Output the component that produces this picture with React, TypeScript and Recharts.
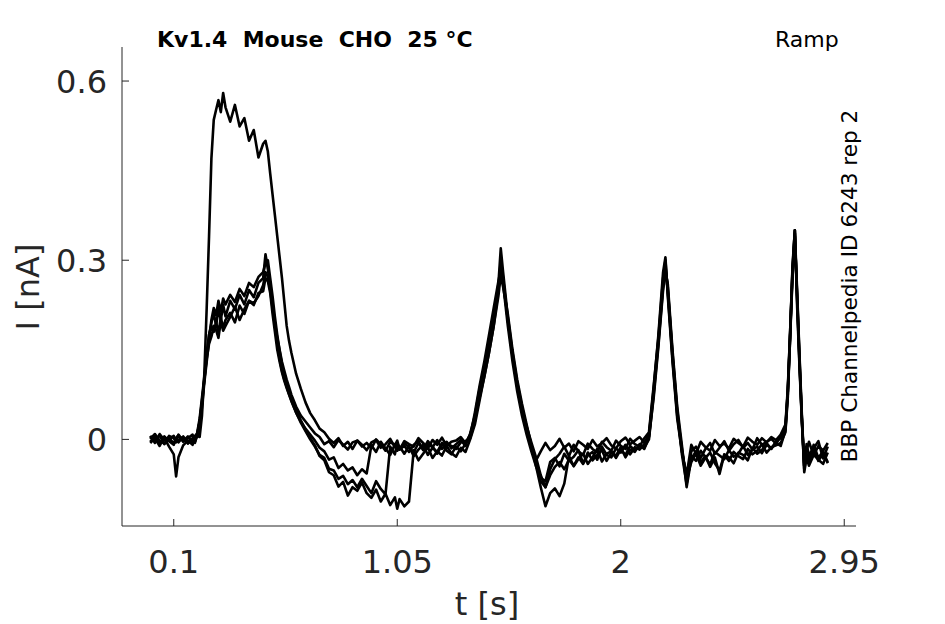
import React from 'react';
import { LineChart, Line, XAxis, YAxis } from 'recharts';

// time grid [s]
const T = [
  0.00, 0.02, 0.04, 0.06, 0.08, 0.10, 0.11, 0.12, 0.14, 0.16,
  0.18, 0.19, 0.20, 0.21, 0.22, 0.23, 0.24, 0.25, 0.26, 0.27,
  0.28, 0.29, 0.30, 0.31, 0.32, 0.34, 0.36, 0.38, 0.40, 0.42,
  0.44, 0.46, 0.48, 0.49, 0.50, 0.51, 0.52, 0.53, 0.54, 0.55,
  0.56, 0.57, 0.58, 0.59, 0.60, 0.62, 0.64, 0.66, 0.68, 0.70,
  0.72, 0.74, 0.76, 0.78, 0.80, 0.82, 0.84, 0.86, 0.88, 0.90,
  0.92, 0.94, 0.96, 0.98, 1.00, 1.02, 1.04, 1.05, 1.06, 1.08,
  1.10, 1.12, 1.14, 1.16, 1.18, 1.20, 1.22, 1.24, 1.26, 1.28,
  1.30, 1.32, 1.34, 1.36, 1.38, 1.40, 1.42, 1.44, 1.46, 1.48,
  1.49, 1.50, 1.52, 1.54, 1.56, 1.58, 1.60, 1.62, 1.64, 1.66,
  1.68, 1.70, 1.72, 1.74, 1.76, 1.78, 1.80, 1.82, 1.84, 1.86,
  1.88, 1.90, 1.92, 1.94, 1.96, 1.98, 2.00, 2.02, 2.04, 2.06,
  2.08, 2.10, 2.12, 2.14, 2.16, 2.18, 2.19, 2.20, 2.22, 2.24,
  2.26, 2.28, 2.30, 2.32, 2.34, 2.36, 2.38, 2.40, 2.42, 2.44,
  2.46, 2.48, 2.50, 2.52, 2.54, 2.56, 2.58, 2.60, 2.62, 2.64,
  2.66, 2.68, 2.70, 2.71, 2.72, 2.73, 2.74, 2.75, 2.76, 2.77,
  2.78, 2.79, 2.80, 2.82, 2.84, 2.86, 2.88,
];

// current traces [nA]
const REP_H = [
  0.006, -0.006, 0.009, -0.001, 0.004, -0.008, 0.003, 0.007, -0.004, 0.002,
  0.008, -0.003, 0.006, 0.004, 0.04, 0.11, 0.22, 0.34, 0.47, 0.535,
  0.552, 0.568, 0.548, 0.58, 0.556, 0.532, 0.56, 0.524, 0.538, 0.5,
  0.518, 0.472, 0.495, 0.5, 0.482, 0.445, 0.41, 0.375, 0.34, 0.305,
  0.27, 0.23, 0.19, 0.165, 0.145, 0.11, 0.085, 0.062, 0.044, 0.032,
  0.018, 0.012, 0.001, -0.006, 0.002, -0.011, -0.004, -0.016, -0.002, -0.009,
  -0.018, -0.005, -0.001, -0.014, -0.008, 0.001, -0.013, -0.006, -0.017, -0.003,
  -0.008, -0.012, 0.002, -0.006, -0.015, -0.001, -0.009, 0.003, -0.011, -0.004,
  -0.002, 0.004, -0.006, 0.008, 0.035, 0.07, 0.105, 0.145, 0.19, 0.25,
  0.3, 0.27, 0.2, 0.14, 0.09, 0.05, 0.022, -0.005, -0.03, -0.06,
  -0.08, -0.05, -0.033, -0.024, -0.012, -0.028, -0.009, -0.02, -0.026, -0.007,
  -0.016, -0.022, -0.004, -0.013, -0.019, -0.002, -0.011, -0.016, 0.001, -0.008,
  -0.012, 0.002, 0.012, 0.09, 0.17, 0.27, 0.3, 0.245, 0.135, 0.04,
  -0.015, -0.07, -0.02, -0.012, -0.031, -0.016, -0.006, -0.024, -0.014, -0.003,
  -0.019, -0.008, -0.001, -0.014, -0.006, -0.017, 0.002, -0.009, -0.004, 0.001,
  -0.007, 0.004, 0.02, 0.08, 0.17, 0.29, 0.35, 0.22, 0.12, 0.03,
  -0.04, -0.008, -0.026, -0.015, -0.003, -0.032, -0.012,
];

const REP_1 = [
  0.001, 0.009, -0.002, -0.007, 0.006, 0.002, -0.004, 0.008, -0.003, 0.005,
  -0.005, 0.006, 0.01, 0.03, 0.06, 0.1, 0.14, 0.175, 0.195, 0.212,
  0.19, 0.218, 0.2, 0.225, 0.206, 0.232, 0.218, 0.242, 0.226, 0.25,
  0.238, 0.262, 0.27, 0.31, 0.285, 0.255, 0.225, 0.195, 0.17, 0.15,
  0.13, 0.115, 0.1, 0.088, 0.075, 0.055, 0.04, 0.03, 0.02, 0.01,
  0.004, -0.008, -0.003, -0.013, -0.001, -0.009, -0.017, -0.005, -0.002, -0.012,
  -0.006, -0.015, 0.0, -0.008, -0.019, -0.004, -0.01, -0.002, -0.016, -0.007,
  -0.013, -0.022, -0.006, -0.017, -0.003, -0.012, -0.024, -0.009, -0.004, -0.015,
  -0.008, -0.001, -0.011, 0.01, 0.04, 0.085, 0.12, 0.16, 0.205, 0.26,
  0.32, 0.28, 0.205, 0.145, 0.095, 0.055, 0.02, -0.01, -0.035, -0.02,
  -0.006, -0.018, -0.011, 0.001, -0.014, -0.007, -0.02, -0.003, -0.009, -0.016,
  -0.001, -0.012, -0.006, 0.002, -0.01, -0.015, -0.003, 0.003, -0.008, -0.002,
  0.004, -0.005, 0.008, 0.085, 0.175, 0.28, 0.305, 0.24, 0.13, 0.035,
  -0.02, -0.06, -0.009, -0.024, -0.004, -0.013, -0.019, -0.001, -0.011, -0.007,
  -0.015, 0.001, -0.006, -0.012, 0.003, -0.004, -0.009, 0.002, -0.005, 0.004,
  -0.001, 0.008, 0.025, 0.085, 0.18, 0.28, 0.35, 0.23, 0.125, 0.035,
  -0.045, -0.018, -0.004, -0.027, -0.011, -0.019, -0.006,
];

const REP_2 = [
  -0.006, 0.002, -0.011, 0.005, -0.003, -0.009, 0.001, -0.005, 0.004, -0.007,
  0.002, -0.004, 0.012, 0.035, 0.07, 0.105, 0.145, 0.175, 0.19, 0.18,
  0.196, 0.178, 0.205, 0.186, 0.2, 0.212, 0.196, 0.224, 0.21, 0.232,
  0.225, 0.245, 0.248, 0.27, 0.265, 0.245, 0.21, 0.18, 0.15, 0.13,
  0.112, 0.098, 0.086, 0.075, 0.064, 0.045, 0.03, 0.018, 0.008, -0.002,
  -0.014, -0.02, -0.034, -0.03, -0.048, -0.041, -0.052, -0.047, -0.06, -0.05,
  -0.057, -0.01, -0.021, -0.004, -0.015, -0.026, -0.008, -0.019, -0.012, -0.024,
  -0.011, -0.028, -0.017, -0.009, -0.026, -0.014, -0.021, -0.006, -0.019, -0.025,
  -0.012, -0.02, -0.007, 0.005, 0.045, 0.09, 0.13, 0.175, 0.22, 0.265,
  0.285, 0.26, 0.19, 0.13, 0.08, 0.04, 0.008, -0.02, -0.045, -0.065,
  -0.07, -0.038, -0.031, -0.045, -0.024, -0.036, -0.029, -0.018, -0.04, -0.027,
  -0.021, -0.034, -0.012, -0.026, -0.03, -0.015, -0.022, -0.009, -0.025, -0.013,
  -0.017, -0.008, 0.005, 0.08, 0.165, 0.26, 0.29, 0.255, 0.14, 0.045,
  -0.025, -0.075, -0.028, -0.036, -0.019, -0.03, -0.042, -0.021, -0.027, -0.033,
  -0.018, -0.029, -0.024, -0.011, -0.026, -0.017, -0.012, -0.023, -0.009, -0.015,
  -0.006, -0.011, 0.015, 0.075, 0.175, 0.275, 0.345, 0.235, 0.13, 0.03,
  -0.05, -0.028, -0.04, -0.017, -0.036, -0.024, -0.038,
];

const REP_3 = [
  0.004, -0.003, 0.007, -0.008, 0.0, 0.006, -0.005, -0.001, 0.005, -0.006,
  0.001, -0.006, 0.008, 0.03, 0.065, 0.1, 0.135, 0.16, 0.172, 0.19,
  0.183, 0.17, 0.198, 0.182, 0.19, 0.205, 0.222, 0.2, 0.218, 0.232,
  0.228, 0.24, 0.258, 0.28, 0.272, 0.25, 0.22, 0.19, 0.16, 0.135,
  0.115, 0.1, 0.088, 0.076, 0.065, 0.045, 0.028, 0.014, 0.0, -0.012,
  -0.026, -0.031, -0.049, -0.052, -0.066, -0.061, -0.075, -0.068, -0.08, -0.066,
  -0.078, -0.09, -0.07, -0.083, -0.092, -0.012, -0.025, -0.006, -0.017, -0.011,
  -0.021, -0.009, -0.003, -0.018, -0.008, -0.013, -0.001, -0.016, -0.007, -0.011,
  -0.016, -0.005, -0.003, 0.002, 0.03, 0.075, 0.115, 0.155, 0.2, 0.25,
  0.29, 0.265, 0.2, 0.14, 0.088, 0.048, 0.015, -0.015, -0.04, -0.07,
  -0.08, -0.06, -0.046, -0.038, -0.05, -0.034, -0.044, -0.03, -0.041, -0.022,
  -0.035, -0.026, -0.018, -0.036, -0.022, -0.027, -0.013, -0.03, -0.017, -0.021,
  -0.008, -0.014, 0.0, 0.075, 0.16, 0.255, 0.285, 0.25, 0.145, 0.05,
  -0.02, -0.065, -0.038, -0.024, -0.044, -0.031, -0.022, -0.04, -0.052, -0.026,
  -0.036, -0.021, -0.028, -0.033, -0.016, -0.025, -0.019, -0.008, -0.022, -0.013,
  -0.01, -0.006, 0.012, 0.07, 0.17, 0.27, 0.34, 0.24, 0.135, 0.035,
  -0.055, -0.03, -0.044, -0.026, -0.034, -0.041, -0.022,
];

const REP_4 = [
  -0.004, 0.005, -0.008, 0.002, -0.012, -0.025, -0.062, -0.03, -0.01, -0.002,
  -0.009, 0.003, 0.005, 0.02, 0.055, 0.095, 0.13, 0.165, 0.2, 0.22,
  0.208, 0.232, 0.214, 0.236, 0.226, 0.242, 0.23, 0.252, 0.24, 0.262,
  0.255, 0.272, 0.28, 0.295, 0.3, 0.27, 0.24, 0.205, 0.175, 0.148,
  0.125, 0.108, 0.094, 0.082, 0.07, 0.05, 0.032, 0.016, 0.002, -0.01,
  -0.028, -0.035, -0.055, -0.06, -0.079, -0.071, -0.094, -0.08, -0.086, -0.072,
  -0.09, -0.098, -0.084, -0.104, -0.091, -0.11, -0.097, -0.116, -0.1, -0.112,
  -0.104, -0.018, -0.035, -0.024, -0.013, -0.031, -0.02, -0.027, -0.011, -0.023,
  -0.029, -0.014, -0.021, 0.0, 0.025, 0.065, 0.105, 0.145, 0.19, 0.24,
  0.275, 0.255, 0.21, 0.15, 0.1, 0.06, 0.025, -0.01, -0.045, -0.08,
  -0.112, -0.09, -0.082, -0.095, -0.074, -0.028, -0.045, -0.033, -0.024, -0.041,
  -0.03, -0.016, -0.037, -0.024, -0.02, -0.031, -0.017, -0.026, -0.011, -0.019,
  -0.009, -0.016, 0.004, 0.07, 0.155, 0.25, 0.28, 0.26, 0.15, 0.055,
  -0.01, -0.08, -0.032, -0.02, -0.038, -0.028, -0.046, -0.03, -0.058, -0.025,
  -0.03, -0.04, -0.022, -0.026, -0.035, -0.014, -0.024, -0.018, -0.006, -0.016,
  -0.003, 0.002, 0.018, 0.08, 0.18, 0.285, 0.35, 0.245, 0.14, 0.04,
  -0.045, -0.024, -0.035, -0.009, -0.031, -0.02, -0.04,
];

const X_TICKS = [0.1, 1.05, 2, 2.95];
const X_TICK_LABELS = ['0.1', '1.05', '2', '2.95'];
const Y_TICKS = [0, 0.3, 0.6];
const Y_TICK_LABELS = ['0', '0.3', '0.6'];

const SERIES = ['h', 'r1', 'r2', 'r3', 'r4'];

const data = T.map((t, i) => ({
  t,
  h: REP_H[i],
  r1: REP_1[i],
  r2: REP_2[i],
  r3: REP_3[i],
  r4: REP_4[i],
}));

const FONT = '"DejaVu Sans", Verdana, sans-serif';
const AX = '#262626';

const XTick = (props: any) => {
  const { x, y, payload } = props;
  const idx = X_TICKS.indexOf(payload.value);
  return (
    <g>
      <line x1={x} x2={x} y1={y} y2={y - 7} stroke={AX} strokeWidth={1} />
      <text x={x} y={y + 46.5} textAnchor="middle" fontSize={32} fill={AX} fontFamily={FONT}>
        {idx >= 0 ? X_TICK_LABELS[idx] : payload.value}
      </text>
    </g>
  );
};

const YTick = (props: any) => {
  const { x, y, payload } = props;
  const idx = Y_TICKS.indexOf(payload.value);
  return (
    <g>
      <line x1={x} x2={x + 7} y1={y} y2={y} stroke={AX} strokeWidth={1} />
      <text x={x - 15} y={y + 11.7} textAnchor="end" fontSize={32} fill={AX} fontFamily={FONT}>
        {idx >= 0 ? Y_TICK_LABELS[idx] : payload.value}
      </text>
    </g>
  );
};

export default function App() {
  return (
    <div style={{ position: 'absolute', left: 0, top: 0, width: 945, height: 624, background: '#fff' }}>
      <LineChart
        width={945}
        height={624}
        data={data}
        margin={{ top: 47, right: 89, bottom: 0, left: 0 }}
      >
        <XAxis
          type="number"
          dataKey="t"
          domain={[-0.12, 3.0]}
          ticks={X_TICKS}
          interval={0}
          height={98}
          tickSize={0}
          tickMargin={0}
          tickLine={false}
          tick={<XTick />}
          axisLine={{ stroke: AX, strokeWidth: 1 }}
          allowDataOverflow
        />
        <YAxis
          type="number"
          domain={[-0.145, 0.657]}
          ticks={Y_TICKS}
          interval={0}
          width={122}
          tickSize={0}
          tickMargin={0}
          tickLine={false}
          tick={<YTick />}
          axisLine={{ stroke: AX, strokeWidth: 1 }}
          allowDataOverflow
        />
        {SERIES.map((k) => (
          <Line
            key={k}
            type="linear"
            dataKey={k}
            stroke="#000"
            strokeWidth={2.6}
            strokeLinejoin="round"
            dot={false}
            activeDot={false}
            isAnimationActive={false}
          />
        ))}
      </LineChart>
      <svg
        width={945}
        height={624}
        style={{ position: 'absolute', left: 0, top: 0, pointerEvents: 'none' }}
      >
        <text x={157} y={46.5} fontSize={22} fontWeight="bold" fill="#000" fontFamily={FONT} style={{ whiteSpace: 'pre' }}>
          {'Kv1.4  Mouse  CHO  25 °C'}
        </text>
        <text x={775} y={46.5} fontSize={22} fill="#000" fontFamily={FONT}>
          Ramp
        </text>
        <text
          x={857}
          y={286}
          fontSize={21.6}
          fill="#000"
          fontFamily={FONT}
          textAnchor="middle"
          transform="rotate(-90 857 286)"
        >
          BBP Channelpedia ID 6243 rep 2
        </text>
        <text x={487} y={615} fontSize={32} fill={AX} fontFamily={FONT} textAnchor="middle">
          t [s]
        </text>
        <text
          x={38.5}
          y={287}
          fontSize={32}
          fill={AX}
          fontFamily={FONT}
          textAnchor="middle"
          transform="rotate(-90 38.5 287)"
        >
          I [nA]
        </text>
      </svg>
    </div>
  );
}
